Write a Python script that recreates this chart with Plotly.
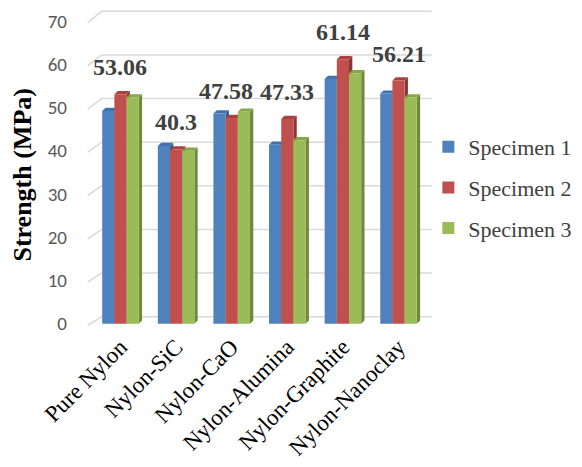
import plotly.graph_objects as go

# ---- data -------------------------------------------------------------
categories = ["Pure Nylon", "Nylon-SiC", "Nylon-CaO", "Nylon-Alumina",
              "Nylon-Graphite", "Nylon-Nanoclay"]
specimen_1 = [49.2, 41.1, 48.6, 41.4, 56.6, 53.2]
specimen_2 = [53.06, 40.3, 47.58, 47.33, 61.14, 56.21]
specimen_3 = [52.3, 40.0, 49.0, 42.4, 57.9, 52.3]
series_names = ["Specimen 1", "Specimen 2", "Specimen 3"]
y_ticks = [0, 10, 20, 30, 40, 50, 60, 70]

# ---- styling ----------------------------------------------------------
front_colors = ["#4F81BD", "#C0504D", "#9BBB59"]
top_colors = ["#4271AE", "#A9423F", "#87A64A"]
side_colors = ["#345F95", "#8E3634", "#6E8A3B"]
BAR_W = 0.219          # bar width in category units
DEPTH_X = 0.06         # pseudo-3D depth, x direction (category units)
DEPTH_Y = 0.75         # pseudo-3D depth, y direction (value units)
X_RANGE = [-0.62, 5.62]
Y_RANGE = [-1, 73]
SERIF = "Times New Roman, Liberation Serif, serif"
SANS = "Carlito, Calibri, Liberation Sans, Arial, sans-serif"
# nudge (px) for value labels that would otherwise collide with a neighbour
label_nudge = {2: -6}

all_series = [specimen_1, specimen_2, specimen_3]
offsets = [-BAR_W, 0.0, BAR_W]
idx = list(range(len(categories)))

fig = go.Figure()
shapes = []

# back-wall gridlines with a slanted segment on the left side wall
for v in y_ticks:
    wall_dy = 1.6 + 0.009 * v
    path = (f"M {X_RANGE[0] + 0.03},{v - 0.4} "
            f"L -0.34,{v + wall_dy} L {X_RANGE[1] - 0.02},{v + wall_dy}")
    shapes.append(dict(type="path", path=path, xref="x", yref="y",
                       line=dict(color="#D9D9D9", width=1.5),
                       layer="below"))

# side and top faces of each bar, drawn behind the front faces
for i in idx:
    for s, vals in enumerate(all_series):
        v = vals[i]
        xl = i + offsets[s] - BAR_W / 2
        xr = xl + BAR_W
        side = (f"M {xr},0 L {xr + DEPTH_X},{DEPTH_Y} "
                f"L {xr + DEPTH_X},{v + DEPTH_Y} L {xr},{v} Z")
        top = (f"M {xl},{v} L {xr},{v} L {xr + DEPTH_X},{v + DEPTH_Y} "
               f"L {xl + DEPTH_X},{v + DEPTH_Y} Z")
        shapes.append(dict(type="path", path=side, xref="x", yref="y",
                           fillcolor=side_colors[s], line=dict(width=0),
                           layer="below"))
        shapes.append(dict(type="path", path=top, xref="x", yref="y",
                           fillcolor=top_colors[s], line=dict(width=0),
                           layer="below"))

# front faces
for s, vals in enumerate(all_series):
    fig.add_trace(go.Bar(
        x=[i + offsets[s] for i in idx],
        y=vals,
        width=BAR_W,
        name=series_names[s],
        legendgroup=series_names[s],
        marker=dict(color=front_colors[s], line=dict(width=0)),
        hoverinfo="y+name",
    ))

# value labels above Specimen 2
annotations = []
for i in idx:
    annotations.append(dict(
        x=i, y=specimen_2[i], xref="x", yref="y",
        text=f"<b>{specimen_2[i]:g}</b>", showarrow=False,
        yanchor="bottom", yshift=12, xshift=label_nudge.get(i, 0),
        font=dict(family=SERIF, size=24, color="#404040"),
    ))

# y-axis title
annotations.append(dict(
    text="<b>Strength (MPa)</b>", textangle=-90, showarrow=False,
    xref="paper", yref="paper", x=-0.183, y=0.481,
    xanchor="center", yanchor="middle",
    font=dict(family=SERIF, size=26, color="#000000"),
))

fig.update_layout(
    width=582, height=467,
    margin=dict(l=85.5, r=149, t=8.1, b=139.2, autoexpand=False),
    paper_bgcolor="white", plot_bgcolor="white",
    barmode="overlay",
    shapes=shapes,
    annotations=annotations,
    showlegend=True,
    legend=dict(
        xref="container", yref="container",
        x=0.736, y=1 - 126 / 467, xanchor="left", yanchor="top",
        font=dict(family=SERIF, size=22, color="#404040"),
        traceorder="grouped", tracegroupgap=9,
        bgcolor="rgba(0,0,0,0)",
    ),
    xaxis=dict(
        range=X_RANGE, tickmode="array", tickvals=idx, ticktext=categories,
        tickangle=-45, showgrid=False, zeroline=False, showline=False,
        ticks="", automargin=False,
        tickfont=dict(family=SERIF, size=23, color="#000000"),
    ),
    yaxis=dict(
        range=Y_RANGE, tickmode="array", tickvals=y_ticks,
        showgrid=False, zeroline=False, showline=False,
        ticks="", ticklabelstandoff=18, automargin=False,
        tickfont=dict(family=SANS, size=19, color="#595959"),
    ),
)

fig.write_html("out.html")
